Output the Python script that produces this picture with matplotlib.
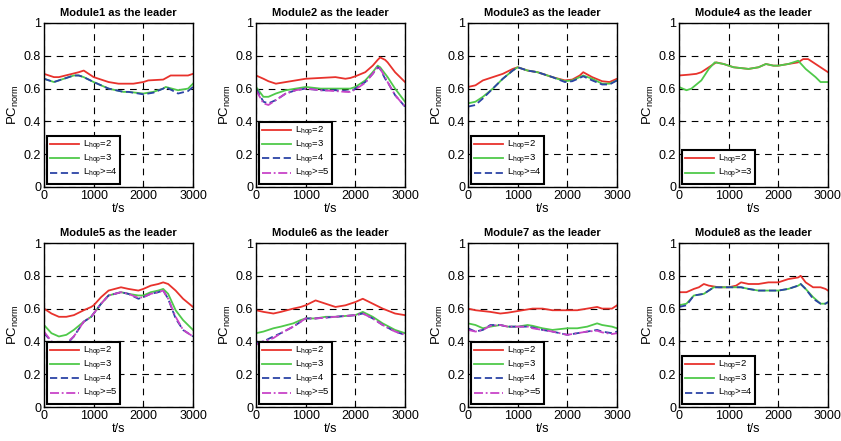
import matplotlib

matplotlib.use("Agg")
import matplotlib.pyplot as plt

plt.rcParams["font.family"] = ["Liberation Sans", "DejaVu Sans"]
plt.rcParams["mathtext.fontset"] = "custom"
plt.rcParams["mathtext.rm"] = "Liberation Sans"
plt.rcParams["mathtext.it"] = "Liberation Sans"

# values: (t, PC_norm) pairs per curve
m1_t2 = [0, 200, 300, 500, 700, 800, 1000, 1300, 1500, 1800, 2000, 2100, 2400, 2550, 2900, 3000]
m1_v2 = [0.69, 0.67, 0.67, 0.685, 0.70, 0.71, 0.67, 0.64, 0.63, 0.63, 0.64, 0.65, 0.655, 0.68, 0.68, 0.69]
m1_t3 = [0, 200, 400, 600, 700, 800, 1000, 1300, 1600, 1700, 2000, 2200, 2400, 2450, 2700, 2900, 3000]
m1_v3 = [0.66, 0.64, 0.66, 0.68, 0.68, 0.67, 0.64, 0.60, 0.58, 0.58, 0.57, 0.58, 0.60, 0.61, 0.59, 0.60, 0.63]
m1_t4 = [0, 200, 400, 600, 700, 800, 1000, 1300, 1600, 1700, 2000, 2200, 2400, 2450, 2700, 2900, 3000]
m1_v4 = [0.66, 0.64, 0.66, 0.68, 0.68, 0.67, 0.64, 0.60, 0.58, 0.58, 0.565, 0.575, 0.60, 0.61, 0.57, 0.585, 0.61]

m2_t = [0, 150, 250, 400, 500, 600, 800, 1000, 1300, 1600, 1800, 1900, 2000, 2200, 2350, 2450, 2500, 2600, 2650, 2800, 3000]
m2_v2 = [0.68, 0.66, 0.645, 0.63, 0.635, 0.64, 0.65, 0.66, 0.665, 0.67, 0.66, 0.665, 0.675, 0.70, 0.74, 0.775, 0.79, 0.775, 0.76, 0.70, 0.64]
m2_v3 = [0.61, 0.55, 0.55, 0.57, 0.58, 0.59, 0.60, 0.61, 0.60, 0.60, 0.60, 0.60, 0.61, 0.65, 0.70, 0.74, 0.73, 0.69, 0.67, 0.60, 0.52]
m2_v4 = [0.60, 0.52, 0.51, 0.53, 0.55, 0.57, 0.59, 0.60, 0.59, 0.59, 0.585, 0.58, 0.60, 0.64, 0.69, 0.73, 0.72, 0.66, 0.64, 0.56, 0.49]
m2_v5 = [0.59, 0.51, 0.50, 0.53, 0.55, 0.57, 0.59, 0.60, 0.59, 0.585, 0.58, 0.58, 0.595, 0.635, 0.69, 0.735, 0.72, 0.67, 0.64, 0.56, 0.49]

m3_t = [0, 150, 300, 500, 700, 900, 1000, 1200, 1400, 1700, 1950, 2100, 2250, 2320, 2500, 2700, 2850, 3000]
m3_v2 = [0.61, 0.62, 0.65, 0.67, 0.69, 0.72, 0.73, 0.71, 0.70, 0.67, 0.65, 0.655, 0.68, 0.70, 0.67, 0.645, 0.64, 0.66]
m3_v3 = [0.51, 0.52, 0.55, 0.60, 0.66, 0.71, 0.73, 0.71, 0.70, 0.67, 0.645, 0.65, 0.67, 0.68, 0.66, 0.63, 0.63, 0.65]
m3_v4 = [0.49, 0.50, 0.54, 0.60, 0.66, 0.71, 0.73, 0.71, 0.70, 0.67, 0.64, 0.645, 0.665, 0.675, 0.65, 0.625, 0.625, 0.65]

m4_t2 = [0, 200, 350, 450, 600, 750, 900, 1100, 1400, 1600, 1750, 1900, 2000, 2200, 2400, 2500, 2600, 2750, 2900, 3000]
m4_v2 = [0.68, 0.685, 0.69, 0.70, 0.73, 0.76, 0.75, 0.73, 0.72, 0.73, 0.75, 0.74, 0.74, 0.75, 0.76, 0.78, 0.78, 0.75, 0.72, 0.70]
m4_t3 = [0, 150, 250, 450, 600, 720, 900, 1100, 1400, 1600, 1750, 1900, 2000, 2200, 2400, 2550, 2750, 2850, 3000]
m4_v3 = [0.61, 0.59, 0.60, 0.65, 0.72, 0.76, 0.75, 0.73, 0.72, 0.73, 0.75, 0.74, 0.74, 0.75, 0.77, 0.72, 0.67, 0.64, 0.64]

m5_t = [0, 150, 300, 450, 600, 800, 950, 1000, 1150, 1300, 1550, 1700, 1900, 2000, 2150, 2300, 2400, 2500, 2650, 2800, 3000]
m5_v2 = [0.60, 0.57, 0.55, 0.55, 0.56, 0.59, 0.61, 0.62, 0.67, 0.71, 0.73, 0.72, 0.71, 0.72, 0.74, 0.75, 0.76, 0.75, 0.71, 0.66, 0.61]
m5_v3 = [0.50, 0.45, 0.43, 0.44, 0.47, 0.52, 0.55, 0.57, 0.63, 0.68, 0.70, 0.69, 0.68, 0.68, 0.70, 0.71, 0.72, 0.69, 0.59, 0.53, 0.47]
m5_v4 = [0.45, 0.40, 0.37, 0.38, 0.43, 0.52, 0.55, 0.57, 0.63, 0.68, 0.70, 0.69, 0.66, 0.67, 0.69, 0.70, 0.71, 0.66, 0.54, 0.47, 0.43]
m5_v5 = [0.46, 0.40, 0.38, 0.39, 0.43, 0.52, 0.55, 0.57, 0.63, 0.68, 0.70, 0.69, 0.665, 0.67, 0.69, 0.70, 0.71, 0.66, 0.55, 0.47, 0.43]

m6_t = [0, 150, 350, 500, 750, 900, 1000, 1200, 1400, 1600, 1800, 2000, 2150, 2350, 2550, 2800, 3000]
m6_v2 = [0.59, 0.58, 0.57, 0.58, 0.60, 0.61, 0.62, 0.65, 0.63, 0.61, 0.62, 0.64, 0.66, 0.63, 0.60, 0.57, 0.56]
m6_v3 = [0.45, 0.46, 0.48, 0.49, 0.51, 0.53, 0.54, 0.54, 0.55, 0.55, 0.555, 0.56, 0.58, 0.55, 0.51, 0.47, 0.45]
m6_v4 = [0.39, 0.40, 0.43, 0.45, 0.49, 0.52, 0.54, 0.54, 0.545, 0.55, 0.555, 0.56, 0.57, 0.54, 0.50, 0.46, 0.44]
m6_v5 = [0.38, 0.40, 0.42, 0.45, 0.49, 0.52, 0.54, 0.54, 0.545, 0.55, 0.555, 0.56, 0.57, 0.54, 0.50, 0.46, 0.44]

m7_t = [0, 150, 300, 450, 650, 800, 1000, 1200, 1300, 1500, 1700, 2000, 2200, 2400, 2600, 2700, 2900, 3000]
m7_v2 = [0.60, 0.59, 0.585, 0.58, 0.57, 0.575, 0.585, 0.595, 0.60, 0.60, 0.59, 0.59, 0.59, 0.60, 0.61, 0.60, 0.60, 0.62]
m7_v3 = [0.51, 0.50, 0.48, 0.49, 0.50, 0.49, 0.49, 0.50, 0.495, 0.48, 0.47, 0.48, 0.48, 0.49, 0.51, 0.50, 0.49, 0.48]
m7_v4 = [0.48, 0.46, 0.47, 0.50, 0.50, 0.49, 0.49, 0.49, 0.485, 0.47, 0.46, 0.44, 0.45, 0.46, 0.47, 0.46, 0.45, 0.46]
m7_v5 = [0.47, 0.46, 0.47, 0.495, 0.50, 0.49, 0.49, 0.49, 0.48, 0.47, 0.46, 0.44, 0.45, 0.46, 0.465, 0.455, 0.445, 0.45]

m8_t = [0, 150, 300, 400, 500, 550, 600, 700, 800, 1000, 1150, 1250, 1400, 1600, 1800, 2000, 2200, 2400, 2450, 2550, 2700, 2850, 2950, 3000]
m8_v2 = [0.70, 0.70, 0.72, 0.73, 0.75, 0.745, 0.74, 0.735, 0.73, 0.73, 0.74, 0.76, 0.75, 0.75, 0.76, 0.76, 0.78, 0.79, 0.80, 0.76, 0.73, 0.73, 0.72, 0.71]
m8_v3 = [0.62, 0.63, 0.68, 0.685, 0.69, 0.70, 0.71, 0.73, 0.73, 0.73, 0.73, 0.73, 0.72, 0.71, 0.71, 0.71, 0.72, 0.74, 0.75, 0.72, 0.67, 0.63, 0.63, 0.64]
m8_v4 = [0.61, 0.62, 0.68, 0.685, 0.69, 0.70, 0.71, 0.73, 0.73, 0.73, 0.73, 0.73, 0.72, 0.71, 0.71, 0.71, 0.72, 0.74, 0.75, 0.72, 0.66, 0.63, 0.63, 0.64]

RED, GREEN, BLUE, MAG = "#e8322c", "#4fc94a", "#2c44a6", "#c844c8"
STY = {
    "2": dict(color=RED, ls="-"),
    "3": dict(color=GREEN, ls="-"),
    "4": dict(color=BLUE, ls=(0, (4, 2))),
    "5": dict(color=MAG, ls=(0, (5, 1.5, 1, 1.5))),
}

panels = [
    ("Module1", [(m1_t2, m1_v2, "2", "=2"), (m1_t3, m1_v3, "3", "=3"), (m1_t4, m1_v4, "4", ">=4")]),
    ("Module2", [(m2_t, m2_v2, "2", "=2"), (m2_t, m2_v3, "3", "=3"), (m2_t, m2_v4, "4", "=4"), (m2_t, m2_v5, "5", ">=5")]),
    ("Module3", [(m3_t, m3_v2, "2", "=2"), (m3_t, m3_v3, "3", "=3"), (m3_t, m3_v4, "4", ">=4")]),
    ("Module4", [(m4_t2, m4_v2, "2", "=2"), (m4_t3, m4_v3, "3", ">=3")]),
    ("Module5", [(m5_t, m5_v2, "2", "=2"), (m5_t, m5_v3, "3", "=3"), (m5_t, m5_v4, "4", "=4"), (m5_t, m5_v5, "5", ">=5")]),
    ("Module6", [(m6_t, m6_v2, "2", "=2"), (m6_t, m6_v3, "3", "=3"), (m6_t, m6_v4, "4", "=4"), (m6_t, m6_v5, "5", ">=5")]),
    ("Module7", [(m7_t, m7_v2, "2", "=2"), (m7_t, m7_v3, "3", "=3"), (m7_t, m7_v4, "4", "=4"), (m7_t, m7_v5, "5", ">=5")]),
    ("Module8", [(m8_t, m8_v2, "2", "=2"), (m8_t, m8_v3, "3", "=3"), (m8_t, m8_v4, "4", ">=4")]),
]

W, H = 841, 441
fig = plt.figure(figsize=(W / 100, H / 100), dpi=100)
lefts = [44, 256, 468, 679]
tops = [23, 243]
aw, ah = 149, 164

for i, (name, curves) in enumerate(panels):
    r, c = divmod(i, 4)
    ax = fig.add_axes([lefts[c] / W, 1 - (tops[r] + ah) / H, aw / W, ah / H])
    for t, v, k, lab in curves:
        ax.plot(t, v, lw=1.3, label=r"L$_{\mathrm{hop}}$" + lab, **STY[k])
    ax.set_xlim(0, 3000)
    ax.set_ylim(0, 1)
    ax.set_xticks([0, 1000, 2000, 3000])
    ax.set_yticks([0, 0.2, 0.4, 0.6, 0.8, 1])
    ax.set_yticklabels(["0", "0.2", "0.4", "0.6", "0.8", "1"])
    ax.tick_params(direction="in", labelsize=9, length=3, pad=2)
    ax.grid(True, color="black", ls=(0, (6, 5)), lw=0.8)
    for s in ax.spines.values():
        s.set_linewidth(1.0)
    ax.set_title(f"{name} as the leader", fontsize=8, fontweight="bold", pad=5)
    ax.set_xlabel("t/s", fontsize=9, labelpad=1)
    ax.set_ylabel(r"PC$_{\mathrm{norm}}$", fontsize=9.5, labelpad=2)
    leg = ax.legend(loc="lower left", fontsize=6.8, handlelength=3.1, borderaxespad=0.3,
                    labelspacing=0.0, fancybox=False, framealpha=1, edgecolor="black",
                    borderpad=0.3, handletextpad=0.4)
    leg.get_frame().set_linewidth(1.5)

fig.savefig("out.png", dpi=100)
